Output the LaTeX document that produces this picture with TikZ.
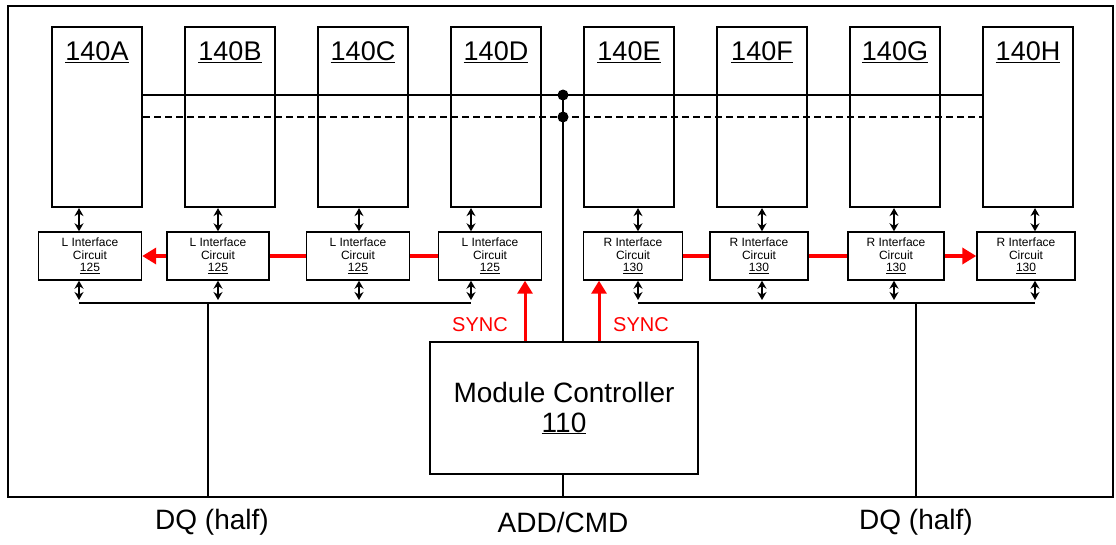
\documentclass[tikz,border=0pt]{standalone}
\usepackage{fontspec}
\setmainfont{Liberation Sans}
\usetikzlibrary{arrows.meta}
\begin{document}
\begin{tikzpicture}[x=1pt,y=-1pt,
  mem/.style={draw,line width=2.2pt,minimum width=90pt,minimum height=180pt,inner sep=0pt},
  memlabel/.style={font=\fontsize{27}{30}\selectfont,inner sep=0pt},
  ifc/.style={draw,line width=1.4pt,minimum height=48pt,inner sep=0pt,align=center,font=\fontsize{12}{12.5}\selectfont},
  bus/.style={line width=1.6pt},
  bi/.style={line width=1.6pt,{Stealth[length=8pt,width=9pt]}-{Stealth[length=8pt,width=9pt]}},
  redlink/.style={red,line width=4pt},
  redarrow/.style={red,line width=4pt,-{Triangle[length=14pt,width=16pt]}},
  syncarrow/.style={red,line width=3pt,-{Triangle[length=13pt,width=15pt]}},
  big/.style={font=\fontsize{28}{30}\selectfont,inner sep=0pt,align=center},
  synclabel/.style={text=red,font=\fontsize{20}{22}\selectfont,inner sep=0pt}
]
\useasboundingbox (0,0) rectangle (1116,544);
% outer frame
\draw[line width=2.2pt] (8,6) rectangle (1113,497);
\coordinate (fL) at (208,497);
\coordinate (fM) at (563,497);
\coordinate (fR) at (916,497);

% memory modules
\foreach \n/\x in {A/97,B/230,C/363,D/496,E/629,F/762,G/895,H/1028}{
  \node[mem] (m\n) at (\x,117) {};
  \node[memlabel] (t\n) at (\x,52) {\underline{140\n}};
}

% buses
\draw[bus] (mA.east |- 0,95) -- (mH.west |- 0,95);
\draw[bus,dash pattern=on 7pt off 4pt] (mA.east |- 0,117) -- (mH.west |- 0,117);
\coordinate (j1) at (563,95);
\coordinate (j2) at (563,117);
\fill (j1) circle (5.5pt);
\fill (j2) circle (5.5pt);

% interface circuits
\node[ifc,minimum width=103pt] (iA) at (90,256) {L Interface\\Circuit\\\underline{125}};
\node[ifc,minimum width=102pt] (iB) at (218,256) {L Interface\\Circuit\\\underline{125}};
\node[ifc,minimum width=103pt] (iC) at (358,256) {L Interface\\Circuit\\\underline{125}};
\node[ifc,minimum width=103pt] (iD) at (490,256) {L Interface\\Circuit\\\underline{125}};
\node[ifc,minimum width=99pt] (iE) at (633,256) {R Interface\\Circuit\\\underline{130}};
\node[ifc,minimum width=98pt] (iF) at (759,256) {R Interface\\Circuit\\\underline{130}};
\node[ifc,minimum width=96pt] (iG) at (896,256) {R Interface\\Circuit\\\underline{130}};
\node[ifc,minimum width=98pt] (iH) at (1026,256) {R Interface\\Circuit\\\underline{130}};

% module controller
\node[draw,line width=2.2pt,minimum width=268pt,minimum height=132pt,big] (mc) at (564,408)
  {Module Controller\\[0pt]\underline{110}};

% memory <-> interface
\foreach \n/\x in {A/79,B/218,C/359,D/471,E/638,F/762,G/894,H/1035}{
  \draw[bi] (m\n.south -| \x,0) -- (i\n.north -| \x,0);
  \draw[bi] (i\n.south -| \x,0) -- (\x,300);
}
% DQ buses
\draw[line width=2.5pt] (79,303) -- (471,303);
\draw[line width=2.5pt] (638,303) -- (1035,303);
\coordinate (bL) at (208,303);
\coordinate (bR) at (916,303);
\draw[bus] (bL) -- (fL);
\draw[bus] (bR) -- (fR);

% ADD/CMD
\draw[line width=2.8pt] (j1) -- (mc.north -| j1);
\draw[bus] (mc.south -| fM) -- (fM);

% red daisy chains
\draw[redlink] (iD.west) -- (iC.east);
\draw[redlink] (iC.west) -- (iB.east);
\draw[redarrow] (iB.west) -- (iA.east);
\draw[redlink] (iE.east) -- (iF.west);
\draw[redlink] (iF.east) -- (iG.west);
\draw[redarrow] (iG.east) -- (iH.west);

% SYNC
\draw[syncarrow] (mc.north -| 525,0) -- (iD.south -| 525,0);
\draw[syncarrow] (mc.north -| 599,0) -- (iE.south -| 599,0);
\node[synclabel] (s1) at (480,325) {SYNC};
\node[synclabel] (s2) at (641,325) {SYNC};

% bottom labels
\node[big] (lDQ1) at (212,522) {DQ (half)};
\node[big] (lAC) at (563,522) {ADD/CMD};
\node[big] (lDQ2) at (916,522) {DQ (half)};
\end{tikzpicture}
\end{document}
